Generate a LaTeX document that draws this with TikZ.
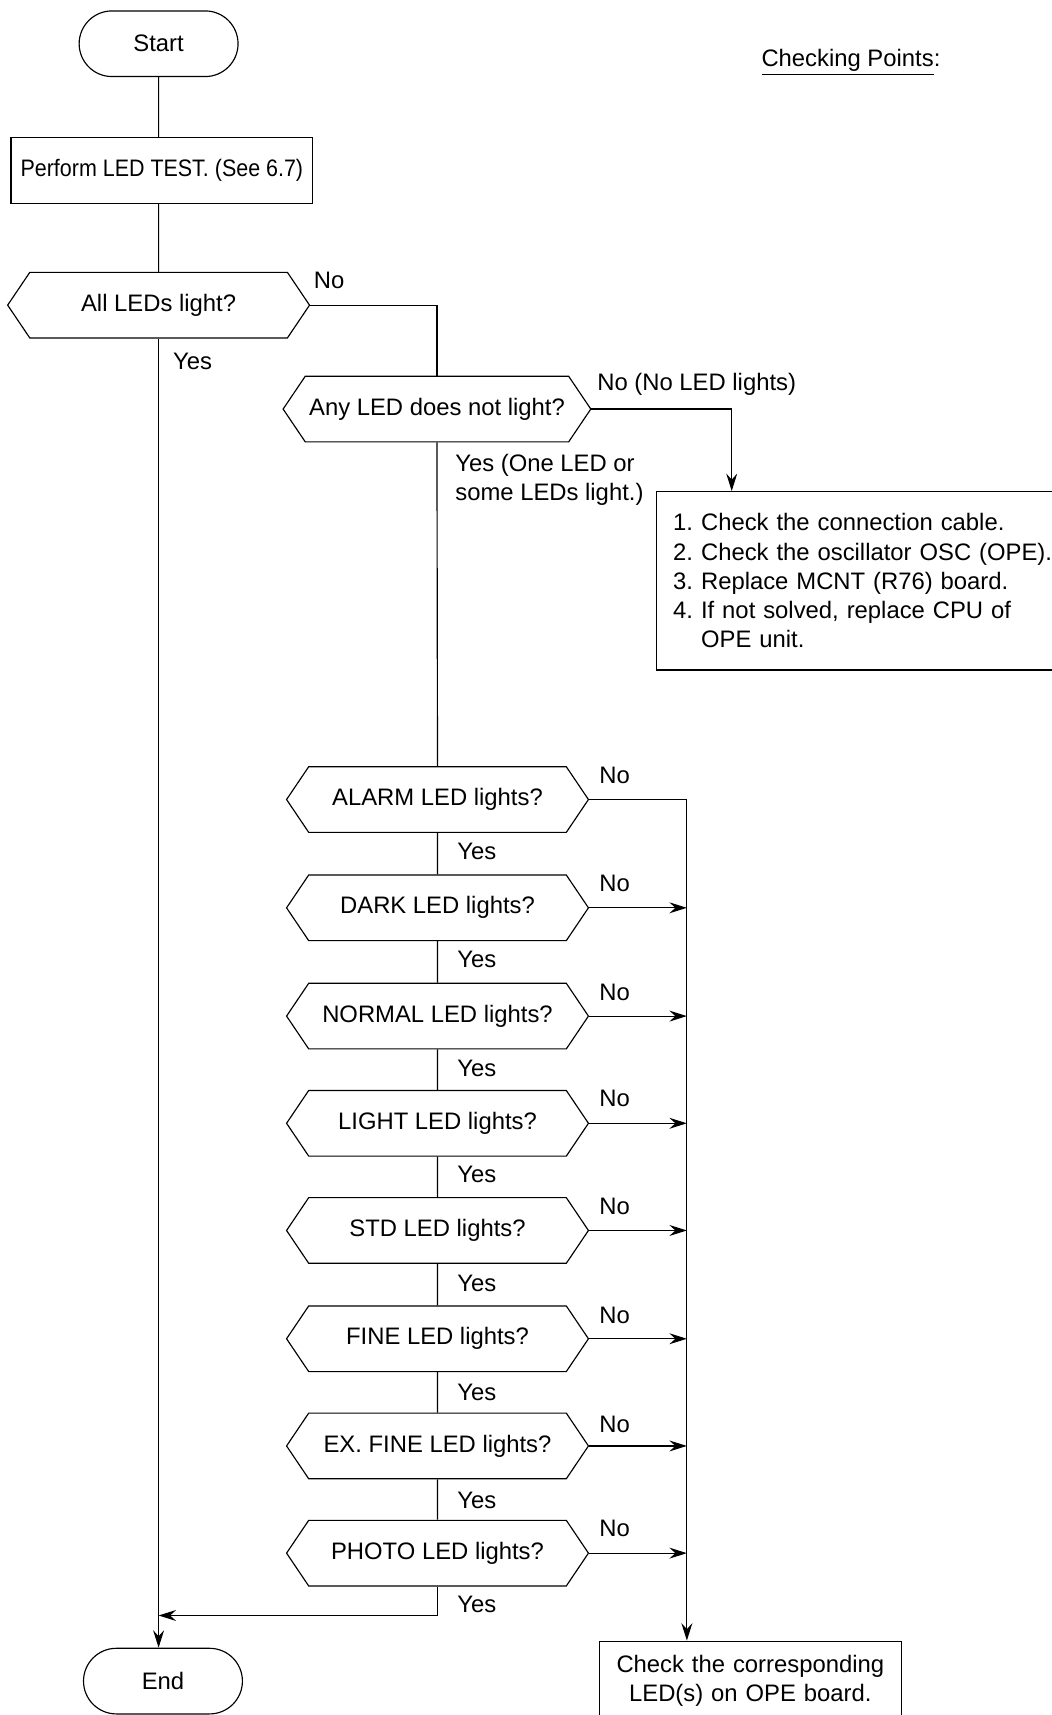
\documentclass[tikz,border=0pt]{standalone}
\usepackage{fontspec}
\setmainfont{Liberation Sans}
\newfontfamily\narrowsans[FakeStretch=0.9]{Liberation Sans}
\usetikzlibrary{arrows.meta,positioning,shapes.misc,shapes.symbols}
\definecolor{LedInk}{RGB}{0,0,0}
\frenchspacing
\tikzset{
  led/terminal/.style={
    rounded rectangle,
    draw=LedInk,
    line width=0.6pt,
    fill=white,
    align=center,
    text=LedInk,
    minimum width=3.14cm,
    minimum height=1.2cm,
    font=\fontsize{12.4}{15.2}\selectfont
  },
  led/box/.style={
    draw=LedInk,
    line width=0.6pt,
    fill=white,
    align=center,
    text=LedInk,
    minimum height=1.2cm,
    inner xsep=0.3cm,
    inner ysep=4pt,
    font=\fontsize{12.4}{15.2}\selectfont
  },
  led/decision/.style={
    signal,
    signal to=west and east,
    signal pointer angle=112,
    draw=LedInk,
    line width=0.6pt,
    fill=white,
    align=center,
    text=LedInk,
    minimum width=5.52cm,
    minimum height=1.2cm,
    inner sep=2pt,
    font=\fontsize{12.4}{15.2}\selectfont
  },
  led/line/.style={line width=0.6pt, draw=LedInk},
  led/arrow/.style={-{Stealth[length=3.2mm,width=2mm,inset=1.1mm]}, line width=0.6pt, draw=LedInk},
  led/label/.style={font=\fontsize{12.4}{15.2}\selectfont, text=LedInk, align=left, inner sep=0pt}
}
\begin{document}
\begin{tikzpicture}[x=1cm,y=1cm]
  \useasboundingbox (0,0) rectangle (19.22,-31.36);
  % main column
  \node[led/terminal] (start) at (2.90,-0.80) {Start};
  \node[led/box,minimum width=5.52cm,inner xsep=0.1cm,font=\narrowsans\fontsize{12.4}{15.2}\selectfont] (perform) at (2.96,-3.12) {Perform LED TEST. (See 6.7)};
  \node[led/decision] (allled) at (2.90,-5.58) {All LEDs light?};
  \node[led/decision] (anyled) at (7.99,-7.48) {Any LED does not light?};
  \node[led/terminal] (end) at (2.98,-30.74) {End};
  % checking points
  \node[led/label] (points) at (15.56,-1.14) {\underline{Checking Points}:};
  \node[led/box,text width=7.3cm,align=left,minimum height=3.26cm,anchor=north west] (chk) at (12.0,-8.98)
    {1. Check the connection cable.\\
     2. Check the oscillator OSC (OPE).\\
     3. Replace MCNT (R76) board.\\
     4. If not solved, replace CPU of\\
     \phantom{4. }OPE unit.};
  \coordinate (chkin) at (13.38,-8.98);
  % single LED checks
  \node[led/decision] (alarm) at (8.0,-14.62) {ALARM LED lights?};
  \node[led/decision] (dark) at (8.0,-16.60) {DARK LED lights?};
  \node[led/decision] (normal) at (8.0,-18.58) {NORMAL LED lights?};
  \node[led/decision] (light) at (8.0,-20.54) {LIGHT LED lights?};
  \node[led/decision] (std) at (8.0,-22.50) {STD LED lights?};
  \node[led/decision] (fine) at (8.0,-24.48) {FINE LED lights?};
  \node[led/decision] (exfine) at (8.0,-26.44) {EX. FINE LED lights?};
  \node[led/decision] (photo) at (8.0,-28.40) {PHOTO LED lights?};
  \node[led/box,text width=4.92cm,minimum height=1.44cm,anchor=north] (fix) at (13.72,-30.0)
    {Check the corresponding\\LED(s) on OPE board.};
  \coordinate (bus) at (12.56,-14.62);
  \coordinate (join) at (2.90,-29.54);
  % connectors
  \draw[led/line] (start) -- (start |- perform.north);
  \draw[led/line] (allled.north |- perform.south) -- (allled);
  \draw[led/arrow] (allled.south) -- (allled.south |- end.north);
  \draw[led/line] (allled.east) -| (anyled.north);
  \draw[led/arrow] (anyled.east) -| (chkin);
  \draw[led/line] (anyled.south) -- (alarm.north);
  \draw[led/line] (alarm) -- (dark);
  \draw[led/line] (dark) -- (normal);
  \draw[led/line] (normal) -- (light);
  \draw[led/line] (light) -- (std);
  \draw[led/line] (std) -- (fine);
  \draw[led/line] (fine) -- (exfine);
  \draw[led/line] (exfine) -- (photo);
  \draw[led/arrow] (alarm.east) -- (bus) -- (bus |- fix.north);
  \draw[led/arrow] (dark.east) -- (dark.east -| bus);
  \draw[led/arrow] (normal.east) -- (normal.east -| bus);
  \draw[led/arrow] (light.east) -- (light.east -| bus);
  \draw[led/arrow] (std.east) -- (std.east -| bus);
  \draw[led/arrow] (fine.east) -- (fine.east -| bus);
  \draw[led/arrow] (exfine.east) -- (exfine.east -| bus);
  \draw[led/arrow] (photo.east) -- (photo.east -| bus);
  \draw[led/arrow] (photo.south) |- (join);
  % branch labels
  \node[led/label] at (6.02,-5.12) {No};
  \node[led/label] at (3.52,-6.60) {Yes};
  \node[led/label] at (12.74,-7.02) {No (No LED lights)};
  \node[led/label,anchor=west] at (8.32,-8.78) {Yes (One LED or\\some LEDs light.)};
  \node[led/label] at (8.72,-15.56) {Yes};
  \node[led/label] at (8.72,-17.54) {Yes};
  \node[led/label] at (8.72,-19.54) {Yes};
  \node[led/label] at (8.72,-21.48) {Yes};
  \node[led/label] at (8.72,-23.46) {Yes};
  \node[led/label] at (8.72,-25.46) {Yes};
  \node[led/label] at (8.72,-27.44) {Yes};
  \node[led/label] at (8.72,-29.34) {Yes};
  \node[led/label] at (11.24,-14.18) {No};
  \node[led/label] at (11.24,-16.16) {No};
  \node[led/label] at (11.24,-18.14) {No};
  \node[led/label] at (11.24,-20.08) {No};
  \node[led/label] at (11.24,-22.06) {No};
  \node[led/label] at (11.24,-24.06) {No};
  \node[led/label] at (11.24,-26.04) {No};
  \node[led/label] at (11.24,-27.94) {No};
\end{tikzpicture}
\end{document}
